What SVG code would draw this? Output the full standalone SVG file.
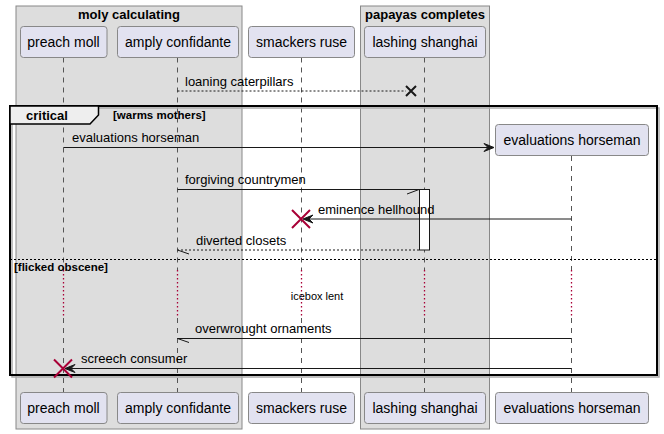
<svg xmlns="http://www.w3.org/2000/svg" width="664" height="434" viewBox="0 0 664 434">
<style>
.grp{fill:#DDDDDD;stroke:#888888;stroke-width:1}
.gt{font-family:"Liberation Sans",Arial,sans-serif;font-weight:bold;font-size:13px;fill:#000}
.pb{fill:#E2E2F0;stroke:#888888;stroke-width:1}
.pt{font-family:"Liberation Sans",Arial,sans-serif;font-size:14px;fill:#000;text-anchor:middle}
.life{stroke:#555555;stroke-width:1;stroke-dasharray:5,5;fill:none}
.dly{stroke:#A80036;stroke-width:1.3;stroke-dasharray:1.5,2.5;fill:none}
.msg{stroke:#181818;stroke-width:1;fill:none}
.dash{stroke-dasharray:2,2}
.mt{font-family:"Liberation Sans",Arial,sans-serif;font-size:13px;fill:#000}
.ah{fill:#181818;stroke:#181818;stroke-width:1}
.rx{stroke:#A80036;stroke-width:2}
.bt{font-family:"Liberation Sans",Arial,sans-serif;font-weight:bold;font-size:11.5px;fill:#000}
</style>
<defs>
<polygon id="ahL" points="0,0 10,-4 6,0 10,4"/>
<polygon id="ahR" points="0,0 -10,-4 -6,0 -10,4"/>
</defs>

<g id="box-moly">
<rect class="grp" x="16" y="6" width="226" height="423"/>
<text class="gt" x="129" y="19" text-anchor="middle">moly calculating</text>
</g>
<g id="box-papayas">
<rect class="grp" x="360.5" y="6" width="129" height="423"/>
<text class="gt" x="425" y="19" text-anchor="middle">papayas completes</text>
</g>

<g id="lifelines">
<path class="life" d="M63.5,57.5V270M63.5,318V392"/>
<path class="life" d="M177.5,57.5V270M177.5,318V392"/>
<path class="life" d="M301.5,57.5V270M301.5,318V392"/>
<path class="life" d="M424.5,57.5V270M424.5,318V392"/>
<path class="life" d="M571.5,156V270M571.5,318V392"/>
<path class="dly" d="M63.5,270V318M177.5,270V318M301.5,270V318M424.5,270V318M571.5,270V318"/>
</g>

<g id="frame-critical">
<rect x="12" y="108" width="647" height="269" fill="none" stroke="#AAAAAA" stroke-width="1.5"/>
<rect x="10" y="106" width="647" height="269" fill="none" stroke="#000" stroke-width="2"/>
<path d="M10,106H98.5V115L90,124H10Z" fill="#EEEEEE" stroke="#000" stroke-width="1.5"/>
<text class="gt" x="26" y="120">critical</text>
<text class="bt" x="113" y="119">[warms mothers]</text>
<line x1="10" y1="259.5" x2="657" y2="259.5" stroke="#000" stroke-width="1" stroke-dasharray="2,2"/>
<text class="bt" x="14" y="271">[flicked obscene]</text>
</g>

<g id="p-preach-moll">
<rect class="pb" x="20.5" y="26.5" width="86.5" height="31" rx="3"/>
<text class="pt" x="63.5" y="46.5">preach moll</text>
<rect class="pb" x="20.5" y="392.5" width="86.5" height="31" rx="3"/>
<text class="pt" x="63.5" y="412.5">preach moll</text>
</g>
<g id="p-amply-confidante">
<rect class="pb" x="117.5" y="26.5" width="121" height="31" rx="3"/>
<text class="pt" x="178" y="46.5">amply confidante</text>
<rect class="pb" x="117.5" y="392.5" width="121" height="31" rx="3"/>
<text class="pt" x="178" y="412.5">amply confidante</text>
</g>
<g id="p-smackers-ruse">
<rect class="pb" x="248.5" y="26.5" width="106" height="31" rx="3"/>
<text class="pt" x="301.5" y="46.5">smackers ruse</text>
<rect class="pb" x="248.5" y="392.5" width="106" height="31" rx="3"/>
<text class="pt" x="301.5" y="412.5">smackers ruse</text>
</g>
<g id="p-lashing-shanghai">
<rect class="pb" x="364.5" y="26.5" width="121" height="31" rx="3"/>
<text class="pt" x="425" y="46.5">lashing shanghai</text>
<rect class="pb" x="364.5" y="392.5" width="121" height="31" rx="3"/>
<text class="pt" x="425" y="412.5">lashing shanghai</text>
</g>
<g id="p-evaluations-horseman">
<rect class="pb" x="495.5" y="124.5" width="153" height="31" rx="3"/>
<text class="pt" x="572" y="145">evaluations horseman</text>
<rect class="pb" x="495.5" y="392.5" width="153" height="31" rx="3"/>
<text class="pt" x="572" y="412.5">evaluations horseman</text>
</g>

<g id="activation">
<rect x="419.5" y="189.5" width="10" height="60.5" fill="#FFFFFF" stroke="#181818" stroke-width="1"/>
</g>

<g id="connectors">
<line class="msg dash" x1="177.5" y1="91" x2="406" y2="91"/>
<path d="M406,86L416,96M406,96L416,86" stroke="#181818" stroke-width="2"/>
<text class="mt" x="185" y="86">loaning caterpillars</text>

<line class="msg" x1="63.5" y1="147.5" x2="493" y2="147.5"/>
<use href="#ahR" class="ah" x="494" y="147.5"/>
<text class="mt" x="72" y="142">evaluations horseman</text>

<line class="msg" x1="177.5" y1="189.5" x2="419" y2="189.5"/>
<line class="msg" x1="419" y1="189.5" x2="407" y2="194"/>
<text class="mt" x="185" y="184">forgiving countrymen</text>

<line class="msg" x1="571.5" y1="219" x2="305" y2="219"/>
<use href="#ahL" class="ah" x="303" y="219"/>
<path class="rx" d="M292,210L310,228M292,228L310,210"/>
<text class="mt" x="318" y="214">eminence hellhound</text>

<line class="msg dash" x1="419" y1="250" x2="177.5" y2="250"/>
<line class="msg" x1="177.5" y1="250" x2="189" y2="254"/>
<text class="mt" x="196" y="245">diverted closets</text>

<text class="mt" x="317" y="300" text-anchor="middle" style="font-size:11px">icebox lent</text>

<line class="msg" x1="571.5" y1="338.5" x2="177.5" y2="338.5"/>
<line class="msg" x1="177.5" y1="338.5" x2="189" y2="342.5"/>
<text class="mt" x="195" y="333">overwrought ornaments</text>

<line class="msg" x1="571.5" y1="368.5" x2="67" y2="368.5"/>
<use href="#ahL" class="ah" x="65" y="368.5"/>
<path class="rx" d="M54,359.5L72,377.5M54,377.5L72,359.5"/>
<text class="mt" x="81" y="363">screech consumer</text>
</g>
</svg>
